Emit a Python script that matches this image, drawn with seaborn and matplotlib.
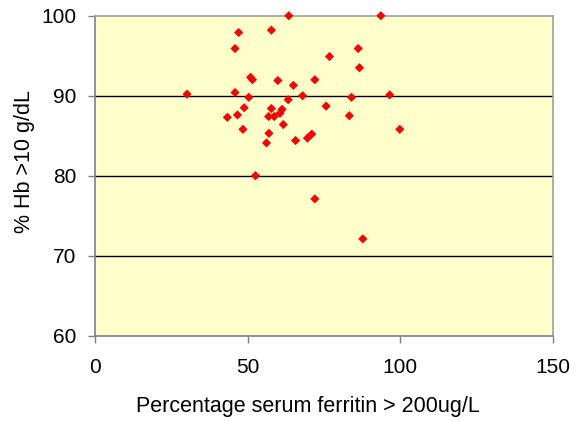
import matplotlib
matplotlib.use("Agg")
import matplotlib.pyplot as plt
import seaborn as sns
import pandas as pd

ferritin_pct = [30.2, 43.4, 45.9, 45.9, 46.7, 47.1, 48.5, 48.9, 50.4, 51.0,
                51.6, 52.6, 56.2, 57.0, 56.9, 57.8, 57.8, 58.7, 59.9, 60.6,
                61.3, 61.7, 63.3, 63.5, 65.0, 65.7, 68.0, 69.6, 71.0, 72.0,
                72.0, 75.7, 76.8, 83.3, 84.0, 86.2, 86.6, 87.7, 93.6, 96.5,
                99.8]
hb_pct = [90.2, 87.3, 95.9, 90.4, 87.6, 97.9, 85.8, 88.5, 89.8, 92.3,
          92.0, 80.0, 84.1, 85.3, 87.4, 88.4, 98.2, 87.4, 91.9, 87.8,
          88.3, 86.4, 89.5, 100.0, 91.3, 84.4, 90.0, 84.7, 85.2, 92.0,
          77.1, 88.7, 94.9, 87.5, 89.8, 95.9, 93.5, 72.1, 100.0, 90.1,
          85.8]
x_ticks = [0, 50, 100, 150]
y_ticks = [60, 70, 80, 90, 100]
x_label = "Percentage serum ferritin > 200ug/L"
y_label = "% Hb >10 g/dL"

sns.set_style("white")
plt.rcParams['font.family'] = ['Liberation Sans', 'DejaVu Sans']

df = pd.DataFrame({"x": ferritin_pct, "y": hb_pct})

fig = plt.figure(figsize=(5.82, 4.21), dpi=100)
ax = fig.add_axes([0.1627, 0.2026, 0.788, 0.760])
ax.set_facecolor("#FFFFCC")

for yv in [70, 80, 90]:
    ax.axhline(yv, color="black", lw=1.0, zorder=1)

sns.scatterplot(data=df, x="x", y="y", ax=ax, marker="D", color="#FF0000",
                s=22, edgecolor="none", zorder=3, clip_on=False)

ax.set_xlim(0, 150)
ax.set_ylim(60, 100)
ax.set_xticks(x_ticks)
ax.set_yticks(y_ticks)
ax.tick_params(axis="both", which="major", bottom=True, left=True,
               direction="out", length=5, width=1, color="#808080",
               labelsize=15, labelcolor="black")
ax.tick_params(axis="y", pad=8)
ax.tick_params(axis="x", pad=11)
for s in ["left", "bottom"]:
    ax.spines[s].set_color("#808080")
    ax.spines[s].set_linewidth(1.2)
for s in ["top", "right"]:
    ax.spines[s].set_color("#A0A0A0")
    ax.spines[s].set_linewidth(1.2)

ax.set_xlabel(x_label, fontsize=15.5, color="black")
ax.set_ylabel(y_label, fontsize=15.5, color="black")
ax.xaxis.set_label_coords(0.465, -0.19)
ax.yaxis.set_label_coords(-0.13, 0.543)

fig.savefig("out.png", dpi=100)
